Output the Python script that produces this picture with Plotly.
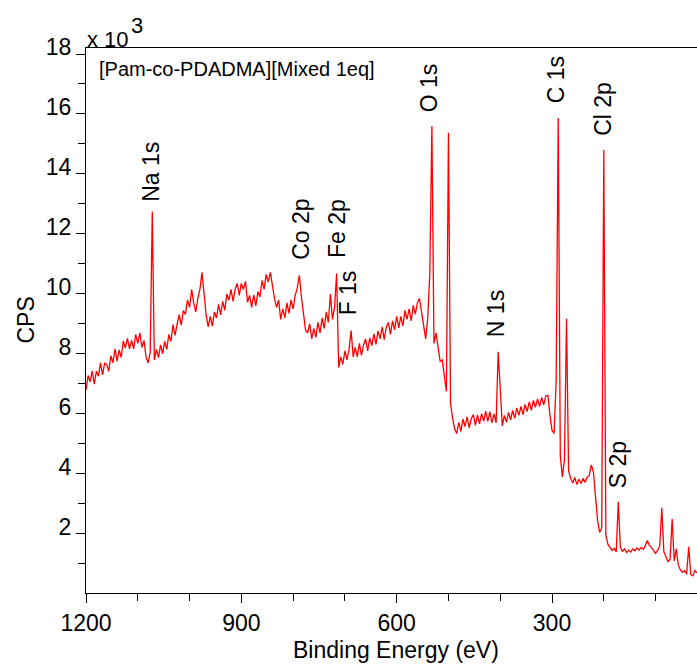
import numpy as np
import plotly.graph_objects as go

# Survey scan sampling grid (binding energy, eV)
ENERGY_START_EV = 1200
ENERGY_STEP_EV = 4

# Counts per second, in thousands, one row per 40 eV (1200 eV -> 20 eV)
cps_k = [
    6.80, 7.28, 7.07, 7.43, 6.99, 7.42, 7.26, 7.70, 7.30, 7.69,
    7.65, 7.42, 7.94, 7.70, 8.17, 7.76, 8.13, 7.88, 8.43, 8.20,
    8.52, 8.17, 8.45, 8.17, 8.65, 8.35, 8.70, 8.22, 8.45, 7.90,
    7.70, 8.05, 12.75, 7.80, 8.15, 7.88, 8.30, 8.00, 8.42, 8.15,
    8.65, 8.42, 8.98, 8.62, 8.99, 9.31, 8.96, 9.45, 9.32, 9.80,
    9.55, 10.15, 9.70, 9.40, 9.85, 10.15, 10.72, 10.00, 9.30, 8.90,
    9.25, 8.93, 9.40, 9.20, 9.65, 9.30, 9.75, 9.45, 10.00, 9.80,
    10.15, 9.75, 10.15, 10.35, 9.95, 10.35, 10.15, 10.42, 9.72, 9.95,
    9.55, 9.97, 9.60, 10.08, 9.90, 10.45, 10.15, 10.65, 10.40, 10.72,
    10.25, 9.85, 9.55, 9.80, 9.15, 9.50, 9.20, 9.70, 9.35, 9.80,
    9.50, 9.95, 10.20, 10.62, 9.90, 9.35, 8.80, 8.70, 9.00, 8.50,
    8.85, 8.55, 9.05, 8.70, 9.20, 8.85, 9.40, 9.05, 10.00, 9.15,
    9.55, 10.68, 7.55, 7.90, 7.65, 8.10, 7.80, 8.15, 8.78, 7.90,
    8.22, 7.90, 8.35, 7.95, 8.30, 8.50, 8.10, 8.53, 8.28, 8.67,
    8.32, 8.77, 8.50, 8.90, 8.48, 8.90, 9.05, 8.65, 9.10, 8.80,
    9.25, 8.87, 9.25, 8.93, 9.45, 9.15, 9.50, 9.10, 9.62, 9.33,
    9.70, 9.85, 9.40, 9.05, 8.50, 9.20, 10.70, 15.60, 8.35, 8.70,
    8.15, 7.75, 7.80, 7.25, 6.75, 15.37, 6.35, 5.85, 5.50, 5.35,
    5.72, 5.42, 5.83, 5.58, 5.90, 5.54, 5.83, 5.98, 5.62, 5.97,
    5.67, 6.01, 5.76, 6.09, 5.75, 6.08, 5.70, 6.00, 5.70, 8.07,
    7.00, 5.60, 5.95, 5.72, 6.05, 5.80, 6.12, 5.85, 6.20, 5.95,
    6.25, 5.98, 6.32, 6.08, 6.40, 6.12, 6.45, 6.22, 6.50, 6.25,
    6.55, 6.30, 6.60, 6.62, 5.95, 5.45, 5.35, 7.10, 15.87, 4.60,
    3.90, 4.45, 9.17, 4.10, 3.85, 3.70, 3.88, 3.65, 3.82, 3.68,
    3.85, 3.72, 3.90, 3.95, 4.30, 4.05, 3.25, 2.45, 2.05, 2.20,
    14.80, 1.95, 1.65, 1.55, 1.45, 1.52, 1.40, 3.07, 1.55, 1.42,
    1.50, 1.38, 1.46, 1.40, 1.50, 1.44, 1.53, 1.46, 1.55, 1.48,
    1.60, 1.78, 1.62, 1.55, 1.45, 1.35, 1.45, 1.60, 2.87, 1.40,
    1.25, 1.08, 1.15, 2.50, 1.10, 1.50, 0.95, 0.80, 0.72, 0.78,
    0.66, 1.57, 0.64, 0.60, 0.78, 0.70,
]
binding_energy = ENERGY_START_EV - ENERGY_STEP_EV * np.arange(len(cps_k))

# Peak assignments: label text and where each label sits (eV, kCPS)
peak_labels = ["Na 1s", "Co 2p", "Fe 2p", "F 1s", "O 1s", "N 1s", "C 1s", "Cl 2p", "S 2p"]
label_energy = [1076, 785, 715, 694, 538, 408, 292, 203, 172]
label_cps_k = [14.08, 12.17, 12.17, 10.02, 16.88, 9.33, 17.13, 16.18, 4.30]

y_tick_values = [2, 4, 6, 8, 10, 12, 14, 16, 18]

FONT = "Liberation Sans, Arial, sans-serif"
BLACK = "#000000"

fig = go.Figure()
fig.add_trace(go.Scatter(
    x=binding_energy, y=cps_k, mode="lines",
    line=dict(color="#ff0000", width=1.3),
    hoverinfo="skip", showlegend=False,
))

annotations = []
for text, ex, ey in zip(peak_labels, label_energy, label_cps_k):
    annotations.append(dict(
        x=ex, y=ey, xref="x", yref="y", text=text, textangle=-90,
        showarrow=False, xanchor="center", yanchor="middle",
        font=dict(family=FONT, size=23, color=BLACK),
    ))

# sample name, scale factor and axis titles
annotations += [
    dict(x=0.018, y=0.9615, xref="paper", yref="paper", xanchor="left", yanchor="middle",
         text="[Pam-co-PDADMA][Mixed 1eq]", showarrow=False,
         font=dict(family=FONT, size=20, color=BLACK)),
    dict(x=-0.002, y=1.0147, xref="paper", yref="paper", xanchor="left", yanchor="middle",
         text="x 10", showarrow=False, font=dict(family=FONT, size=22, color=BLACK)),
    dict(x=0.0704, y=1.0413, xref="paper", yref="paper", xanchor="left", yanchor="middle",
         text="3", showarrow=False, font=dict(family=FONT, size=22, color=BLACK)),
    dict(x=0.5074, y=-0.1046, xref="paper", yref="paper", xanchor="center", yanchor="middle",
         text="Binding Energy (eV)", showarrow=False, font=dict(family=FONT, size=23, color=BLACK)),
    dict(x=-0.0998, y=0.5, xref="paper", yref="paper", xanchor="center", yanchor="middle",
         text="CPS", textangle=-90, showarrow=False, font=dict(family=FONT, size=23, color=BLACK)),
]

fig.update_layout(
    width=697, height=667,
    margin=dict(l=86, r=0, t=48, b=74, pad=0),
    paper_bgcolor="white", plot_bgcolor="white",
    font=dict(family=FONT, color=BLACK),
    annotations=annotations,
    xaxis=dict(
        range=[1200, 20], tickmode="linear", tick0=0, dtick=300,
        ticks="outside", ticklen=9, tickwidth=1.3, tickcolor=BLACK,
        showline=True, linecolor=BLACK, linewidth=1.3, mirror=True,
        showgrid=False, zeroline=False,
        tickfont=dict(family=FONT, size=23, color=BLACK),
        minor=dict(tickmode="linear", tick0=0, dtick=100, ticks="outside",
                   ticklen=7, tickwidth=1.3, tickcolor=BLACK, showgrid=False),
    ),
    yaxis=dict(
        range=[0.03, 18.2], tickmode="array", tickvals=y_tick_values,
        ticktext=[str(v) for v in y_tick_values],
        ticks="outside", ticklen=9, tickwidth=1.3, tickcolor=BLACK,
        showline=True, linecolor=BLACK, linewidth=1.3, mirror=False,
        showgrid=False, zeroline=False, ticklabelshift=-7,
        tickfont=dict(family=FONT, size=23, color=BLACK),
        minor=dict(tickmode="linear", tick0=0, dtick=1, ticks="outside",
                   ticklen=7, tickwidth=1.3, tickcolor=BLACK, showgrid=False),
    ),
)

fig.write_html("out.html")
